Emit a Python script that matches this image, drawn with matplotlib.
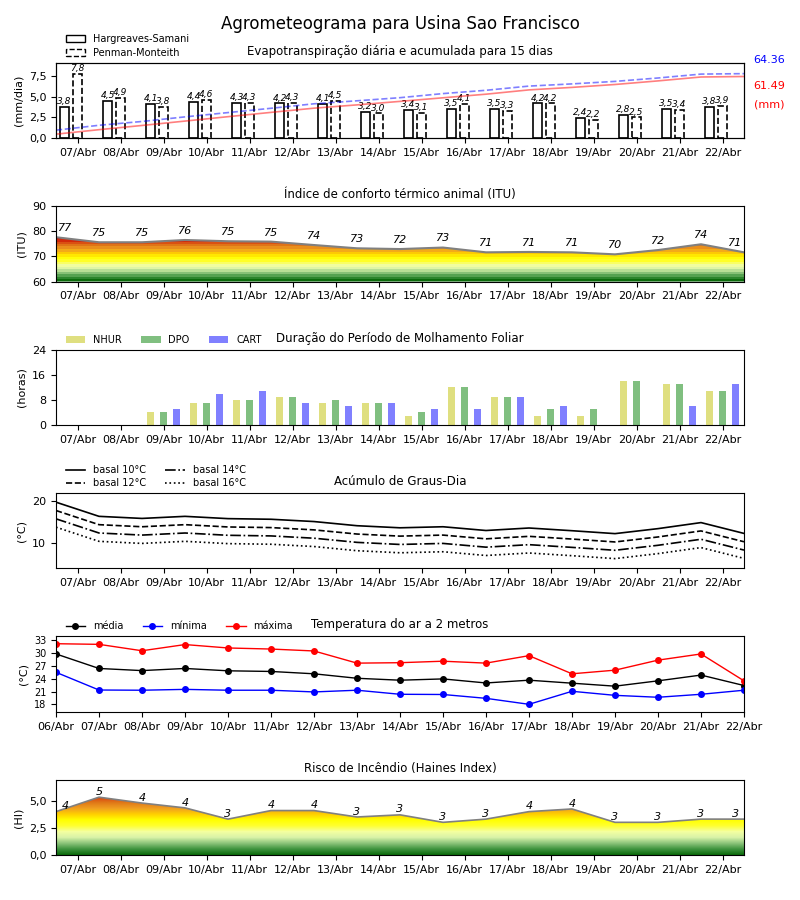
import numpy as np
import matplotlib
matplotlib.use('Agg')
import matplotlib.pyplot as plt
from matplotlib.patches import Patch, Polygon
from matplotlib.colors import LinearSegmentedColormap
from matplotlib.ticker import FuncFormatter

dias = ['06/Abr', '07/Abr', '08/Abr', '09/Abr', '10/Abr', '11/Abr', '12/Abr', '13/Abr', '14/Abr',
        '15/Abr', '16/Abr', '17/Abr', '18/Abr', '19/Abr', '20/Abr', '21/Abr', '22/Abr']

# evapotranspiracao diaria (mm/dia) e acumulada (mm)
et_hs = [3.8, 4.5, 4.1, 4.4, 4.3, 4.2, 4.1, 3.2, 3.4, 3.5, 3.5, 4.2, 2.4, 2.8, 3.5, 3.8]
et_pm = [7.8, 4.9, 3.8, 4.6, 4.3, 4.3, 4.5, 3.0, 3.1, 4.1, 3.3, 4.2, 2.2, 2.5, 3.4, 3.9]
acum_hs = [3.8, 8.3, 12.5, 16.9, 21.3, 25.6, 29.8, 33.1, 36.6, 40.2, 43.8, 48.1, 50.6, 53.5, 57.1, 61.0, 61.49]
acum_pm = [7.8, 12.7, 16.5, 21.1, 25.4, 29.7, 34.2, 37.2, 40.3, 44.4, 47.7, 51.9, 54.1, 56.6, 60.0, 63.9, 64.36]

# indice de conforto termico
itu = [77.6, 75.6, 75.6, 76.5, 76.0, 75.85, 74.5, 73.2, 72.9, 73.5, 71.6, 71.75, 71.6, 70.8, 72.5, 74.8, 71.6]
itu_txt = [77, 75, 75, 76, 75, 75, 74, 73, 72, 73, 71, 71, 71, 70, 72, 74, 71]

# molhamento foliar (horas)
nhur = [0, 0, 4, 7, 8, 9, 7, 7, 3, 12, 9, 3, 3, 14, 13, 11]
dpo = [0, 0, 4, 7, 8, 9, 8, 7, 4, 12, 9, 5, 5, 14, 13, 11]
cart = [0, 0, 5, 10, 11, 7, 6, 7, 5, 5, 9, 6, 0, 0, 6, 13]

# graus-dia
gd10 = [19.8, 16.4, 15.9, 16.4, 15.85, 15.7, 15.15, 14.15, 13.65, 13.9, 13.0, 13.6, 12.95, 12.25, 13.45, 14.9, 12.3]
gd12 = [17.8, 14.4, 13.9, 14.4, 13.85, 13.7, 13.15, 12.15, 11.65, 11.9, 11.0, 11.6, 10.95, 10.25, 11.45, 12.9, 10.3]
gd14 = [15.8, 12.4, 11.9, 12.4, 11.85, 11.7, 11.15, 10.15, 9.65, 9.9, 9.0, 9.6, 8.95, 8.25, 9.45, 10.9, 8.3]
gd16 = [13.8, 10.4, 9.9, 10.4, 9.85, 9.7, 9.15, 8.15, 7.65, 7.9, 7.0, 7.6, 6.95, 6.25, 7.45, 8.9, 6.3]

# temperatura do ar (C)
t_med = [29.8, 26.4, 25.9, 26.4, 25.85, 25.7, 25.15, 24.1, 23.65, 23.95, 23.0, 23.65, 22.95, 22.25, 23.5, 24.85, 22.4]
t_min = [25.5, 21.35, 21.3, 21.5, 21.3, 21.3, 20.9, 21.3, 20.35, 20.3, 19.4, 18.0, 21.05, 20.1, 19.65, 20.35, 21.3]
t_max = [32.2, 32.05, 30.55, 32.0, 31.2, 30.95, 30.5, 27.65, 27.75, 28.1, 27.65, 29.4, 25.15, 26.0, 28.35, 29.8, 23.5]

# risco de incendio (Haines)
haines = [4.05, 5.4, 4.85, 4.4, 3.35, 4.15, 4.15, 3.55, 3.75, 3.05, 3.35, 4.05, 4.3, 3.05, 3.05, 3.35, 3.35]
haines_txt = [4, 5, 4, 4, 3, 4, 4, 3, 3, 3, 3, 4, 4, 3, 3, 3, 3]

cores = ['#0b6b0b', '#3f943f', '#8cc47a', '#d8f3a8', '#f4ffa0', '#ffff30', '#ffff00',
         '#ffd000', '#f0a020', '#e07818', '#d84010', '#c80000']
cmap_itu = LinearSegmentedColormap.from_list('itu', cores, N=18)
cmap_hi = LinearSegmentedColormap.from_list('hi', cores, N=256)

virg = FuncFormatter(lambda v, p: ('%.1f' % v).replace('.', ','))


def gradiente(ax, x, y, base, topo, cmap, vmin, vmax):
    verts = [(x[0], base)] + list(zip(x, y)) + [(x[-1], base)]
    poly = Polygon(verts, closed=True, fc='none', ec='none')
    ax.add_patch(poly)
    z = np.linspace(base, topo, 400).reshape(-1, 1)
    im = ax.imshow(z, extent=[x[0], x[-1], base, topo], origin='lower', aspect='auto',
                   cmap=cmap, vmin=vmin, vmax=vmax, interpolation='nearest')
    im.set_clip_path(poly)


def rotulo_x(i, n):
    # primeiro e ultimo rotulo ficam um pouco para dentro
    if i == 0:
        return 0.22
    if i == n - 1:
        return i - 0.2
    return i


fig = plt.figure(figsize=(8, 9), dpi=100)
fig.suptitle('Agrometeograma para Usina Sao Francisco', fontsize=12, y=0.983)
L, W = 0.07, 0.86
x16 = np.arange(16)
x17 = np.arange(17)
ancora = (0.007, 1.0)

# ---- evapotranspiracao
ax1 = fig.add_axes([L, 0.8467, W, 0.0833])
ax1.bar(x16 + 0.2, et_hs, 0.22, color='white', edgecolor='black', lw=1.2)
ax1.bar(x16 + 0.5, et_pm, 0.22, color='white', edgecolor='black', lw=1.2, linestyle='--')
for i in range(16):
    ax1.text(i + 0.2, et_hs[i] + 0.1, ('%.1f' % et_hs[i]).replace('.', ','), ha='center', va='bottom',
             fontsize=6.5, style='italic')
    ax1.text(i + 0.5, et_pm[i] + 0.1, ('%.1f' % et_pm[i]).replace('.', ','), ha='center', va='bottom',
             fontsize=6.5, style='italic')
ax1.set_xlim(0, 16)
ax1.set_ylim(0, 9.13)
ax1.set_yticks([0, 2.5, 5, 7.5])
ax1.yaxis.set_major_formatter(virg)
ax1.set_xticks(x16 + 0.5)
ax1.set_xticklabels(dias[1:], fontsize=8)
ax1.tick_params(axis='y', labelsize=8)
ax1.set_ylabel('(mm/dia)', fontsize=8)
ax1.set_title('Evapotranspiração diária e acumulada para 15 dias', fontsize=8.5)
ax1b = ax1.twinx()
ax1b.plot(x17, acum_hs, color='red', alpha=0.5, lw=1.2)
ax1b.plot(x17, acum_pm, color='blue', ls='--', alpha=0.5, lw=1.2)
ax1b.set_ylim(0, 75)
ax1b.set_yticks([])
ax1.text(1.036, 1.044, '64.36', transform=ax1.transAxes, color='blue', ha='center', va='center', fontsize=8)
ax1.text(1.036, 0.697, '61.49', transform=ax1.transAxes, color='red', ha='center', va='center', fontsize=8)
ax1.text(1.036, 0.443, '(mm)', transform=ax1.transAxes, color='red', ha='center', va='center', fontsize=8)
leg_h = [Patch(facecolor='white', edgecolor='black', label='Hargreaves-Samani'),
         Patch(facecolor='white', edgecolor='black', linestyle='--', label='Penman-Monteith')]
ax1.legend(handles=leg_h, loc='lower left', bbox_to_anchor=ancora, frameon=False, fontsize=7,
           borderaxespad=0.1, labelspacing=0.4)

# ---- ITU
ax2 = fig.add_axes([L, 0.6872, W, 0.0839])
gradiente(ax2, x17, itu, 60, 90, cmap_itu, 60, 78)
ax2.plot(x17, itu, color='gray', lw=1.5)
for i in range(17):
    ax2.text(rotulo_x(i, 17), itu[i] + 3.6, str(itu_txt[i]), ha='center', va='center', fontsize=8, style='italic')
ax2.set_xlim(0, 16)
ax2.set_ylim(60, 90)
ax2.set_yticks([60, 70, 80, 90])
ax2.set_xticks(x16 + 0.5)
ax2.set_xticklabels(dias[1:], fontsize=8)
ax2.tick_params(axis='y', labelsize=8)
ax2.set_ylabel('(ITU)', fontsize=8)
ax2.set_title('Índice de conforto térmico animal (ITU)', fontsize=8.5)

# ---- molhamento foliar
ax3 = fig.add_axes([L, 0.5278, W, 0.0833])
ax3.bar(x16 + 0.2, nhur, 0.17, color='#dfdf80', label='NHUR')
ax3.bar(x16 + 0.5, dpo, 0.17, color='#80bf80', label='DPO')
ax3.bar(x16 + 0.8, cart, 0.17, color='#8080ff', label='CART')
ax3.set_xlim(0, 16)
ax3.set_ylim(0, 24)
ax3.set_yticks([0, 8, 16, 24])
ax3.set_xticks(x16 + 0.5)
ax3.set_xticklabels(dias[1:], fontsize=8)
ax3.tick_params(axis='y', labelsize=8)
ax3.set_ylabel('(horas)', fontsize=8)
ax3.set_title('Duração do Período de Molhamento Foliar', fontsize=8.5)
ax3.legend(loc='lower left', bbox_to_anchor=ancora, ncol=3, frameon=False, fontsize=7,
           borderaxespad=0.1, columnspacing=2.0)

# ---- graus-dia
ax4 = fig.add_axes([L, 0.3689, W, 0.0833])
ax4.plot(x17, gd10, 'k-', lw=1.2, label='basal 10°C')
ax4.plot(x17, gd12, 'k--', lw=1.2, label='basal 12°C')
ax4.plot(x17, gd14, 'k-.', lw=1.2, label='basal 14°C')
ax4.plot(x17, gd16, 'k:', lw=1.2, label='basal 16°C')
ax4.set_xlim(0, 16)
ax4.set_ylim(4, 22)
ax4.set_yticks([10, 20])
ax4.set_xticks(x16 + 0.5)
ax4.set_xticklabels(dias[1:], fontsize=8)
ax4.tick_params(axis='y', labelsize=8)
ax4.set_ylabel('(°C)', fontsize=8)
ax4.set_title('Acúmulo de Graus-Dia', fontsize=8.5)
ax4.legend(loc='lower left', bbox_to_anchor=ancora, ncol=2, frameon=False, fontsize=7,
           borderaxespad=0.1, labelspacing=0.3)

# ---- temperatura
ax5 = fig.add_axes([L, 0.2089, W, 0.0844])
ax5.plot(x17, t_med, 'k-', marker='o', ms=4, lw=1, label='média')
ax5.plot(x17, t_min, 'b-', marker='o', ms=4, lw=1, label='mínima')
ax5.plot(x17, t_max, 'r-', marker='o', ms=4, lw=1, label='máxima')
ax5.set_xlim(0, 16)
ax5.set_ylim(16.2, 34)
ax5.set_yticks([18, 21, 24, 27, 30, 33])
ax5.set_xticks(x17)
ax5.set_xticklabels(dias, fontsize=8)
ax5.tick_params(axis='y', labelsize=7)
ax5.set_ylabel('(°C)', fontsize=8)
ax5.set_title('Temperatura do ar a 2 metros', fontsize=8.5)
ax5.legend(loc='lower left', bbox_to_anchor=ancora, ncol=3, frameon=False, fontsize=7,
           borderaxespad=0.1, columnspacing=2.0)

# ---- Haines
ax6 = fig.add_axes([L, 0.05, W, 0.0833])
gradiente(ax6, x17, haines, 0, 7, cmap_hi, 0, 6)
ax6.plot(x17, haines, color='gray', lw=1.2)
for i in range(17):
    ax6.text(rotulo_x(i, 17), haines[i] + 0.5, str(haines_txt[i]), ha='center', va='center', fontsize=8,
             style='italic')
ax6.set_xlim(0, 16)
ax6.set_ylim(0, 7)
ax6.set_yticks([0, 2.5, 5])
ax6.yaxis.set_major_formatter(virg)
ax6.set_xticks(x16 + 0.5)
ax6.set_xticklabels(dias[1:], fontsize=8)
ax6.tick_params(axis='y', labelsize=8)
ax6.set_ylabel('(HI)', fontsize=8)
ax6.set_title('Risco de Incêndio (Haines Index)', fontsize=8.5)

fig.savefig('out.png', dpi=100)
